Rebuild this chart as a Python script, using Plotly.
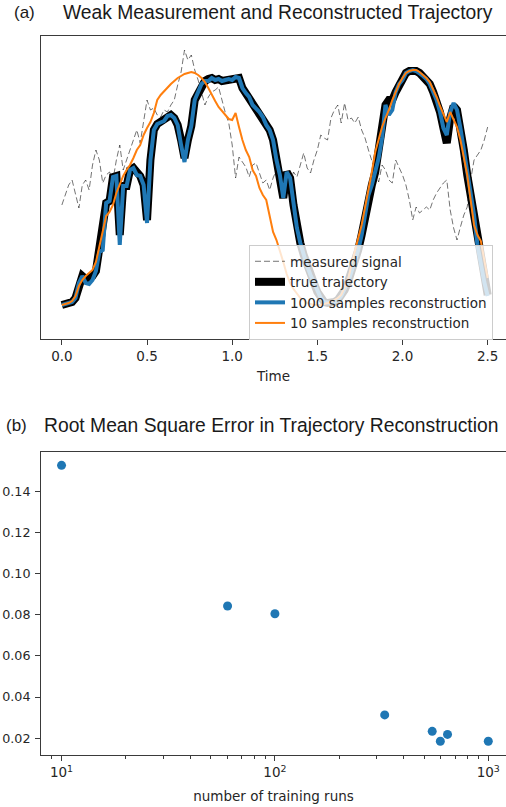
import plotly.graph_objects as go

# ---------------- data ----------------
TIME = [0.00, 0.02, 0.04, 0.06, 0.08, 0.10, 0.12, 0.14, 0.16, 0.18,
        0.20, 0.22, 0.24, 0.26, 0.28, 0.30, 0.32, 0.34, 0.36, 0.38,
        0.40, 0.42, 0.44, 0.46, 0.48, 0.50, 0.52, 0.54, 0.56, 0.58,
        0.60, 0.62, 0.64, 0.66, 0.68, 0.70, 0.72, 0.74, 0.76, 0.78,
        0.80, 0.82, 0.84, 0.86, 0.88, 0.90, 0.92, 0.94, 0.96, 0.98,
        1.00, 1.02, 1.04, 1.06, 1.08, 1.10, 1.12, 1.14, 1.16, 1.18,
        1.20, 1.22, 1.24, 1.26, 1.28, 1.30, 1.32, 1.34, 1.36, 1.38,
        1.40, 1.42, 1.44, 1.46, 1.48, 1.50, 1.52, 1.54, 1.56, 1.58,
        1.60, 1.62, 1.64, 1.66, 1.68, 1.70, 1.72, 1.74, 1.76, 1.78,
        1.80, 1.82, 1.84, 1.86, 1.88, 1.90, 1.92, 1.94, 1.96, 1.98,
        2.00, 2.02, 2.04, 2.06, 2.08, 2.10, 2.12, 2.14, 2.16, 2.18,
        2.20, 2.22, 2.24, 2.26, 2.28, 2.30, 2.32, 2.34, 2.36, 2.38,
        2.40, 2.42, 2.44, 2.46, 2.48, 2.50]

MEASURED = [1.00, 1.10, 1.20, 1.25, 1.10, 0.97, 1.20, 1.25, 1.15, 1.40,
            1.55, 1.45, 1.22, 1.30, 1.33, 1.25, 1.45, 1.60, 1.35, 1.45,
            1.55, 1.65, 1.75, 1.62, 1.85, 2.05, 1.95, 1.97, 1.90, 1.88,
            1.95, 1.93, 2.00, 2.05, 2.20, 2.33, 2.55, 2.45, 2.50, 2.35,
            2.25, 2.13, 2.00, 2.08, 2.13, 2.15, 2.18, 2.05, 1.92, 1.82,
            1.60, 1.27, 1.48, 1.43, 1.38, 1.28, 1.40, 1.42, 1.33, 1.22,
            1.25, 1.15, 1.27, 1.35, 1.23, 1.15, 1.27, 1.20, 1.33, 1.28,
            1.40, 1.52, 1.37, 1.32, 1.45, 1.55, 1.70, 1.67, 1.65, 1.87,
            1.95, 2.00, 1.82, 2.02, 1.85, 1.87, 1.82, 1.88, 1.75, 1.67,
            1.55, 1.45, 1.35, 1.23, 1.40, 1.35, 1.25, 1.22, 1.45, 1.37,
            1.30, 1.20, 1.05, 0.85, 0.98, 0.92, 0.95, 0.98, 0.95, 1.05,
            1.12, 1.17, 1.22, 1.25, 0.95, 0.77, 0.65, 0.78, 0.90, 0.98,
            1.25, 1.45, 1.50, 1.55, 1.65, 1.78]

TRUE_TRAJ = [0.00, 0.01, 0.02, 0.03, 0.07, 0.22, 0.29, 0.26, 0.28, 0.29,
             0.34, 0.53, 0.77, 1.02, 1.04, 1.28, 1.29, 0.70, 1.19, 1.19,
             1.35, 1.37, 1.33, 1.29, 1.20, 0.85, 1.45, 1.75, 1.81, 1.83,
             1.87, 1.89, 1.90, 1.87, 1.80, 1.65, 1.47, 1.65, 1.79, 2.05,
             2.13, 2.21, 2.24, 2.26, 2.27, 2.25, 2.26, 2.24, 2.25, 2.26,
             2.25, 2.28, 2.27, 2.17, 2.12, 2.08, 2.02, 1.97, 1.93, 1.88,
             1.83, 1.75, 1.65, 1.45, 1.30, 1.07, 1.33, 1.27, 1.00, 0.77,
             0.62, 0.50, 0.39, 0.30, 0.22, 0.13, 0.07, 0.03, 0.02, 0.02,
             0.03, 0.05, 0.09, 0.15, 0.23, 0.33, 0.43, 0.55, 0.70, 0.90,
             1.10, 1.20, 1.33, 1.55, 1.77, 2.00, 2.05, 2.05, 2.13, 2.21,
             2.27, 2.32, 2.34, 2.35, 2.34, 2.32, 2.29, 2.26, 2.21, 2.13,
             2.05, 1.93, 1.77, 1.62, 1.87, 1.99, 1.95, 1.77, 1.55, 1.30,
             1.10, 0.90, 0.60, 0.43, 0.25, 0.10]

RECON_1000 = [0.00, 0.01, 0.02, 0.03, 0.07, 0.22, 0.29, 0.22, 0.21, 0.25,
              0.34, 0.53, 0.55, 1.02, 1.04, 1.28, 1.29, 0.60, 1.19, 1.19,
              1.35, 1.37, 1.30, 1.29, 1.20, 0.82, 1.45, 1.75, 1.81, 1.83,
              1.84, 1.89, 1.90, 1.87, 1.80, 1.60, 1.43, 1.65, 1.79, 2.05,
              2.13, 2.21, 2.24, 2.24, 2.27, 2.25, 2.26, 2.24, 2.25, 2.26,
              2.25, 2.28, 2.27, 2.17, 2.12, 2.08, 2.00, 1.97, 1.93, 1.88,
              1.80, 1.75, 1.65, 1.45, 1.30, 1.07, 1.33, 1.27, 1.00, 0.77,
              0.62, 0.50, 0.39, 0.30, 0.22, 0.13, 0.07, 0.03, 0.02, 0.02,
              0.03, 0.05, 0.09, 0.15, 0.23, 0.33, 0.43, 0.55, 0.70, 0.90,
              1.10, 1.20, 1.33, 1.47, 1.67, 2.00, 1.90, 1.95, 2.13, 2.21,
              2.25, 2.32, 2.34, 2.35, 2.34, 2.32, 2.29, 2.26, 2.21, 2.13,
              2.05, 1.93, 1.77, 1.70, 1.93, 2.02, 1.95, 1.77, 1.55, 1.30,
              1.10, 0.90, 0.60, 0.40, 0.23, 0.09]

RECON_10 = [0.00, 0.01, 0.02, 0.04, 0.09, 0.19, 0.25, 0.29, 0.32, 0.35,
            0.43, 0.58, 0.73, 0.89, 0.93, 1.00, 1.12, 1.20, 1.29, 1.35,
            1.40, 1.47, 1.55, 1.60, 1.70, 1.77, 1.83, 1.92, 2.05, 2.10,
            2.14, 2.17, 2.21, 2.24, 2.27, 2.29, 2.31, 2.32, 2.33, 2.32,
            2.30, 2.27, 2.23, 2.17, 2.10, 2.04, 1.98, 1.94, 1.89, 1.86,
            1.85, 1.92, 1.78, 1.65, 1.55, 1.48, 1.35, 1.29, 1.17, 1.10,
            1.05, 0.87, 0.73, 0.65, 0.55, 0.43, 0.31, 0.22, 0.16, 0.11,
            0.07, 0.05, 0.02, 0.01, 0.00, 0.00, 0.00, 0.01, 0.02, 0.03,
            0.05, 0.07, 0.10, 0.17, 0.25, 0.40, 0.55, 0.67, 0.80, 0.97,
            1.17, 1.33, 1.53, 1.65, 1.78, 1.87, 1.95, 2.05, 2.13, 2.21,
            2.27, 2.32, 2.34, 2.35, 2.35, 2.33, 2.30, 2.27, 2.23, 2.16,
            2.08, 1.99, 1.90, 1.83, 1.93, 1.85, 1.78, 1.65, 1.48, 1.30,
            1.05, 0.80, 0.70, 0.64, 0.45, 0.27]

TRAINING_RUNS = [10, 60, 100, 327, 546, 596, 644, 1000]
RMSE = [0.1527, 0.0843, 0.0805, 0.0313, 0.0233, 0.0185, 0.0218, 0.0185]

X_TICKS_TOP = [0.0, 0.5, 1.0, 1.5, 2.0, 2.5]
X_TICKLABELS_TOP = ["0.0", "0.5", "1.0", "1.5", "2.0", "2.5"]
Y_TICKS_BOTTOM = [0.02, 0.04, 0.06, 0.08, 0.10, 0.12, 0.14]
X_TICKS_BOTTOM = [10, 100, 1000]
X_TICKLABELS_BOTTOM = ["10<sup>1</sup>", "10<sup>2</sup>", "10<sup>3</sup>"]

# ---------------- figure ----------------
W, H = 506, 807
ML = 41
TICK_FONT = dict(family="DejaVu Sans", size=13.5, color="#262626")
YTICK_FONT = dict(family="DejaVu Sans", size=12.7, color="#262626")
AXIS_COLOR = "#3a3a3a"

fig = go.Figure()

fig.add_trace(go.Scatter(x=TIME, y=MEASURED, mode="lines", name="measured signal",
                         line=dict(color="rgba(0,0,0,0.55)", width=1, dash="6px,3px"),
                         xaxis="x", yaxis="y"))
fig.add_trace(go.Scatter(x=TIME, y=TRUE_TRAJ, mode="lines", name="true trajectory",
                         line=dict(color="black", width=8),
                         xaxis="x", yaxis="y"))
fig.add_trace(go.Scatter(x=TIME, y=RECON_1000, mode="lines", name="1000 samples reconstruction",
                         line=dict(color="#1f77b4", width=4),
                         xaxis="x", yaxis="y"))
fig.add_trace(go.Scatter(x=TIME, y=RECON_10, mode="lines", name="10 samples reconstruction",
                         line=dict(color="#ff7f0e", width=2),
                         xaxis="x", yaxis="y"))

fig.add_trace(go.Scatter(x=TRAINING_RUNS, y=RMSE, mode="markers", showlegend=False,
                         marker=dict(color="#1f77b4", size=9),
                         xaxis="x2", yaxis="y2"))

def frac(py):
    return 1 - py / H

def xfrac(px):
    return (px - ML) / (W - ML)

fig.update_layout(
    width=W, height=H,
    margin=dict(l=ML, r=0, t=0, b=0, autoexpand=False),
    paper_bgcolor="white", plot_bgcolor="white",
    font=dict(family="DejaVu Sans", size=13.5, color="#262626"),
    xaxis=dict(domain=[0, 1], range=[-0.1225, 2.6076], anchor="y",
               tickvals=X_TICKS_TOP, ticktext=X_TICKLABELS_TOP,
               ticks="outside", ticklen=5, tickwidth=1, tickcolor=AXIS_COLOR,
               showline=True, linecolor=AXIS_COLOR, linewidth=1, mirror=True,
               showgrid=False, zeroline=False, tickfont=TICK_FONT,
               title=dict(text="Time", font=dict(family="DejaVu Sans", size=13.5), standoff=8)),
    yaxis=dict(domain=[frac(339), frac(36)], range=[-0.34, 2.69], anchor="x",
               showticklabels=False, ticks="", showline=True, linecolor=AXIS_COLOR,
               linewidth=1, mirror=False, showgrid=False, zeroline=False),
    xaxis2=dict(domain=[0, 1], type="log", range=[0.9038, 3.083], anchor="y2",
                tickvals=X_TICKS_BOTTOM, ticktext=X_TICKLABELS_BOTTOM,
                ticks="outside", ticklen=5, tickwidth=1, tickcolor=AXIS_COLOR,
                minor=dict(ticks="outside", ticklen=3, tickcolor=AXIS_COLOR, dtick="D1", showgrid=False),
                showline=True, linecolor=AXIS_COLOR, linewidth=1, mirror=True,
                showgrid=False, zeroline=False, tickfont=TICK_FONT,
                title=dict(text="number of training runs", font=dict(family="DejaVu Sans", size=13.5), standoff=12)),
    yaxis2=dict(domain=[frac(755), frac(452)], range=[0.0118, 0.1592], anchor="x2",
                tickvals=Y_TICKS_BOTTOM, tickformat=".2f",
                ticks="outside", ticklen=5, tickwidth=1, tickcolor=AXIS_COLOR,
                ticklabelstandoff=2,
                showline=True, linecolor=AXIS_COLOR, linewidth=1, mirror=False,
                showgrid=False, zeroline=False, tickfont=YTICK_FONT),
    legend=dict(x=xfrac(249), y=frac(245), xanchor="left", yanchor="top",
                bgcolor="rgba(255,255,255,0.8)", bordercolor="#cccccc", borderwidth=1,
                font=dict(family="DejaVu Sans", size=13.5, color="#262626"),
                itemwidth=30, tracegroupgap=0),
    showlegend=True,
)

TITLE_FONT_A = dict(family="Liberation Sans", size=19.3, color="#1a1a1a")
TITLE_FONT_B = dict(family="Liberation Sans", size=19.3, color="#1a1a1a")
LABEL_FONT = dict(family="Liberation Sans", size=17, color="#1a1a1a")
fig.add_annotation(text="(a)", x=xfrac(12), y=frac(12), xref="paper", yref="paper",
                   xanchor="left", yanchor="middle", showarrow=False, font=LABEL_FONT)
fig.add_annotation(text="Weak Measurement and Reconstructed Trajectory", x=xfrac(61),
                   y=frac(12), xref="paper", yref="paper", xanchor="left", yanchor="middle",
                   showarrow=False, font=TITLE_FONT_A)
fig.add_annotation(text="(b)", x=xfrac(4), y=frac(425), xref="paper", yref="paper",
                   xanchor="left", yanchor="middle", showarrow=False, font=LABEL_FONT)
fig.add_annotation(text="Root Mean Square Error in Trajectory Reconstruction", x=xfrac(42),
                   y=frac(425), xref="paper", yref="paper", xanchor="left", yanchor="middle",
                   showarrow=False, font=TITLE_FONT_B)

fig.write_html("out.html", config={"displayModeBar": False},
               post_script="document.body.style.margin='0px';document.body.style.padding='0px';")
